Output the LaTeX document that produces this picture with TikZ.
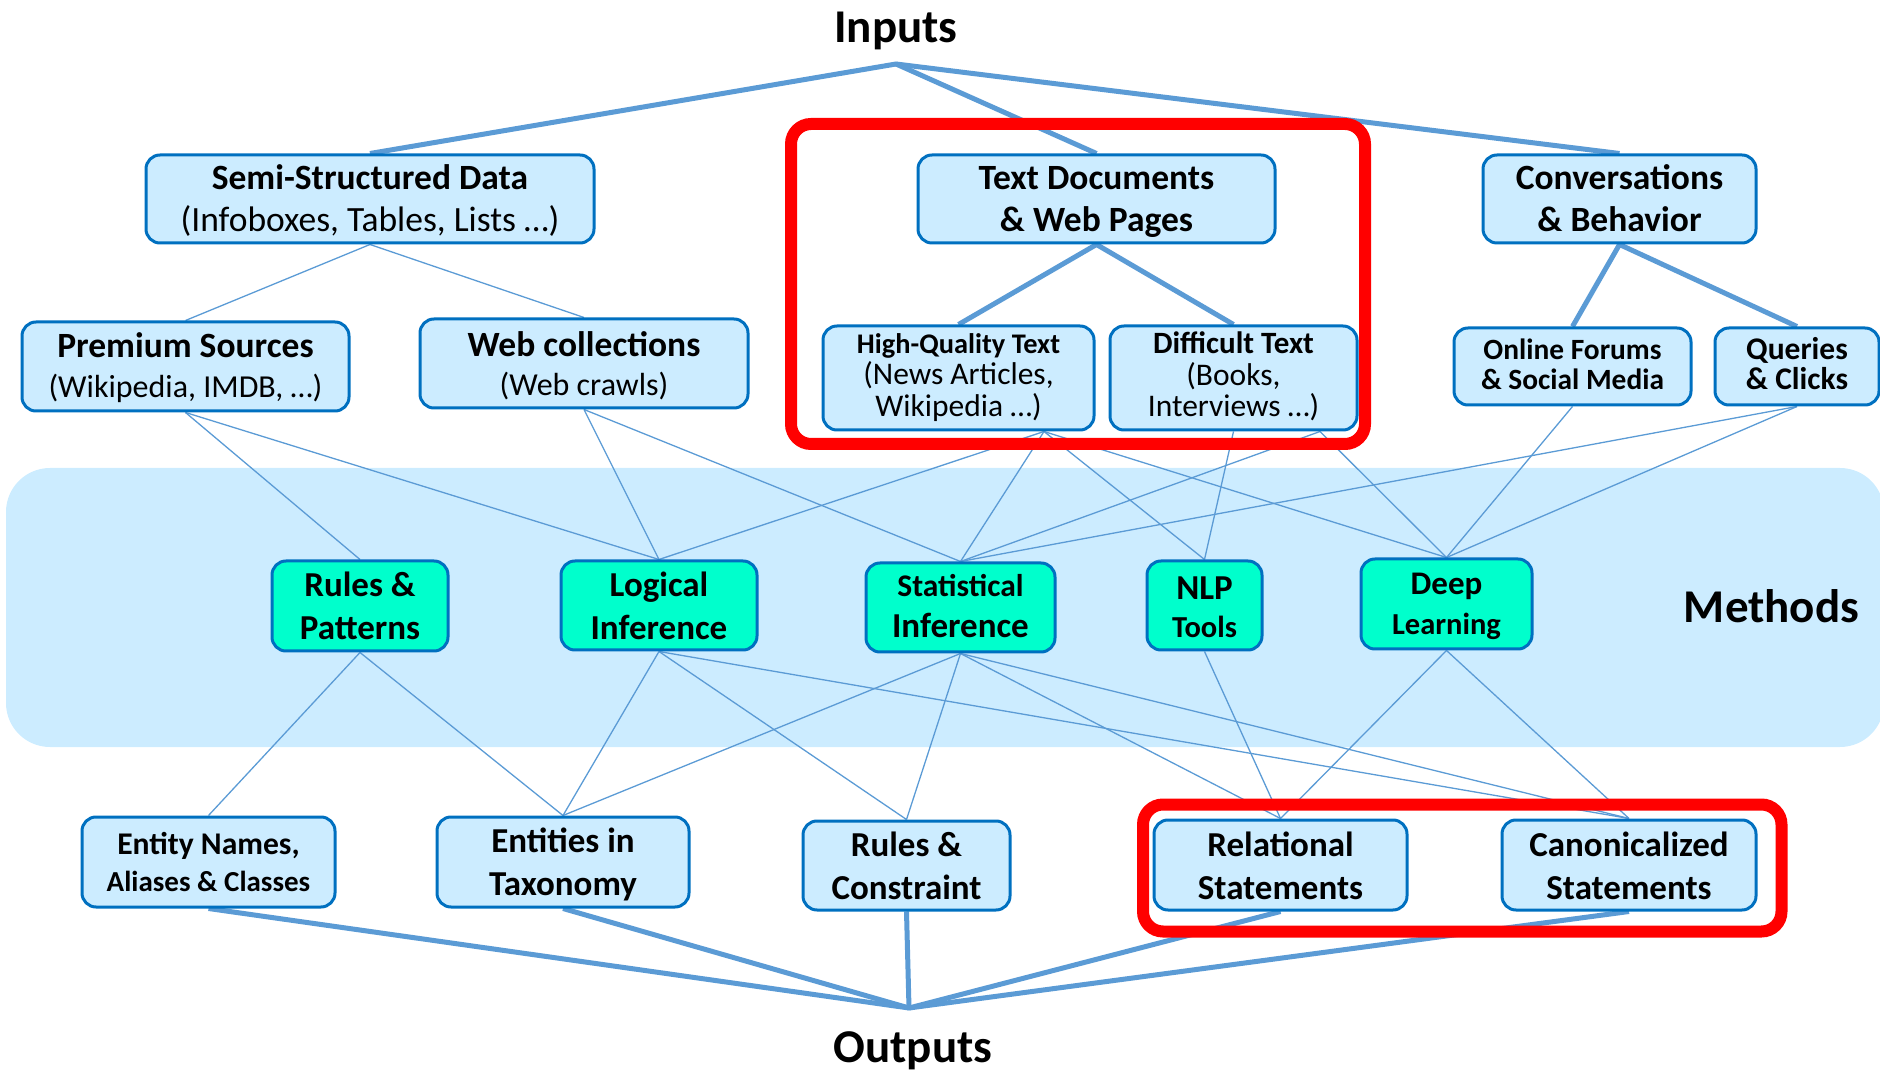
\documentclass[tikz,border=0pt]{standalone}
\usepackage{fontspec}
\setmainfont{Carlito}
\usetikzlibrary{calc}
\definecolor{boxfill}{HTML}{CCECFF}
\definecolor{boxline}{HTML}{0070C0}
\definecolor{linkblue}{HTML}{5B9BD5}
\definecolor{methfill}{HTML}{00FFCC}
\definecolor{hilite}{HTML}{FF0000}
\pgfdeclarelayer{band}
\pgfdeclarelayer{links}
\pgfdeclarelayer{frames}
\pgfsetlayers{band,links,frames,main}
\newcommand\setfs[2]{\fontsize{#1}{#2}\selectfont}
% invisible rules that fix the height of the first line and the depth of the last one
\newcommand\topline[1]{\rule{0pt}{#1pt}}
\newcommand\botline{\rule[-4.5pt]{0pt}{4.5pt}}
\begin{document}
\begin{tikzpicture}[x=0.5pt,y=-0.5pt,
  box/.style={draw=boxline,line width=1.5pt,fill=boxfill,rounded corners=7pt,align=center,inner sep=0pt},
  methbox/.style={box,fill=methfill},
  twig/.style={draw=linkblue,line width=0.65pt},
  trunk/.style={draw=linkblue,line width=2.5pt},
  frame/.style={draw=hilite,line width=6pt,rounded corners=10pt},
  heading/.style={font=\bfseries\setfs{23.5}{28},anchor=base,inner sep=0pt}]
\useasboundingbox (0,0) rectangle (1880,1074);

% headings
\node[heading] (inputs) at (896,43) {Inputs};
\node[heading] (outputs) at (913,1062) {Outputs};
\node[heading] (methods) at (1771.5,623) {Methods};
\coordinate (inap) at (896,64);
\coordinate (outap) at (909,1008);

% input sources
\node[box,minimum width=224pt,minimum height=44pt,font=\setfs{17.75}{21.35}] (semi) at (370,199)
  {\topline{16.15}\textbf{Semi-Structured Data}\\(Infoboxes, Tables, Lists …)\botline};
\node[box,minimum width=178.5pt,minimum height=44pt,font=\bfseries\setfs{17.75}{21.35}] (textdoc) at (1096.5,199)
  {\topline{16.15}Text Documents\\\& Web Pages\botline};
\node[box,minimum width=136.5pt,minimum height=44pt,font=\bfseries\setfs{17.75}{20.85}] (conv) at (1619.5,199)
  {\topline{16.35}Conversations\\\& Behavior\botline};
\node[box,minimum width=163.5pt,minimum height=44.5pt,font=\setfs{16}{20}] (premium) at (185.5,366.5)
  {\topline{16}{\bfseries\setfs{17.75}{20}Premium Sources}\\(Wikipedia, IMDB, …)\botline};
\node[box,minimum width=164pt,minimum height=44.5pt,font=\setfs{16}{19.4}] (webcol) at (584,363.5)
  {\topline{16.7}{\bfseries\setfs{17.75}{19.4}Web collections}\\(Web crawls)\botline};
\node[box,minimum width=135.5pt,minimum height=52pt,font=\setfs{15.75}{15.85}] (hq) at (958.5,378)
  {\topline{11.5}{\bfseries\setfs{14.2}{15.85}High-Quality Text}\\(News Articles,\\Wikipedia …)\botline};
\node[box,minimum width=123.5pt,minimum height=52pt,font=\setfs{15.75}{15.85}] (diff) at (1233.5,378)
  {\topline{11.8}{\bfseries\setfs{15.5}{15.85}Difficult Text}\\(Books,\\Interviews …)\botline};
\node[box,minimum width=118.5pt,minimum height=38.5pt,font=\bfseries\setfs{14.7}{15.35}] (online) at (1572.5,366.5)
  {\topline{12.65}Online Forums\\\& Social Media\botline};
\node[box,minimum width=82pt,minimum height=38.5pt,font=\bfseries\setfs{15.75}{15.35}] (queries) at (1797,366.5)
  {\topline{12.65}Queries\\\& Clicks\botline};

% methods
\node[methbox,minimum width=88pt,minimum height=45pt,font=\bfseries\setfs{17.5}{21.25}] (rules) at (360,606)
  {\topline{16.65}Rules \&\\Patterns\botline};
\node[methbox,minimum width=98pt,minimum height=44.5pt,font=\bfseries\setfs{17.5}{21.5}] (logical) at (659,605.5)
  {\topline{17.5}Logical\\Inference\botline};
\node[methbox,minimum width=94.5pt,minimum height=44.5pt,font=\bfseries\setfs{17.5}{20.5}] (stat) at (960.5,607.5)
  {\topline{14.5}{\setfs{15.75}{20.5}Statistical}\\Inference\botline};
\node[methbox,minimum width=57.5pt,minimum height=44.5pt,font=\bfseries\setfs{17.5}{19.15}] (nlp) at (1204.5,605.5)
  {\topline{17.85}NLP\\{\setfs{15.25}{19.15}Tools}\botline};
\node[methbox,minimum width=85.5pt,minimum height=45pt,font=\bfseries\setfs{16.5}{20}] (deep) at (1446.5,604)
  {\topline{15.5}Deep\\{\setfs{15.25}{20}Learning}\botline};

% outputs
\node[box,minimum width=126.5pt,minimum height=45pt,font=\bfseries\setfs{15.8}{18.25}] (entity) at (208.5,862)
  {\topline{15.25}Entity Names,\\{\setfs{14.5}{18.25}Aliases \& Classes}\botline};
\node[box,minimum width=126pt,minimum height=45pt,font=\bfseries\setfs{17.5}{21.25}] (taxo) at (563,862)
  {\topline{16.25}Entities in\\Taxonomy\botline};
\node[box,minimum width=103.5pt,minimum height=44.5pt,font=\bfseries\setfs{17.5}{21.25}] (rulesc) at (906.5,865.5)
  {\topline{16.75}Rules \&\\Constraint\botline};
\node[box,minimum width=126.5pt,minimum height=45pt,font=\bfseries\setfs{17.5}{21.25}] (rel) at (1280.5,865)
  {\topline{17.25}Relational\\Statements\botline};
\node[box,minimum width=127pt,minimum height=45pt,font=\bfseries\setfs{17.5}{21.25}] (canon) at (1629,865)
  {\topline{17.25}Canonicalized\\Statements\botline};

% methods band
\begin{pgfonlayer}{band}
  \fill[boxfill,rounded corners=22pt] (6,468) rectangle (1884,747);
\end{pgfonlayer}

% connectors
\begin{pgfonlayer}{links}
  \coordinate (hqout) at ($(hq.south)+(85.5,0)$);
  \coordinate (diffout) at ($(diff.south)+(86.5,0)$);
  % source hierarchy
  \draw[trunk] (semi.north) -- (inap) -- (conv.north);
  \draw[trunk] (inap) -- (textdoc.north);
  \draw[trunk] (hq.north) -- (textdoc.south) -- (diff.north);
  \draw[trunk] (online.north) -- (conv.south) -- (queries.north);
  \draw[twig] (premium.north) -- (semi.south) -- (webcol.north);
  % sources to methods
  \draw[twig] (premium.south) -- (rules.north);
  \draw[twig] (premium.south) -- (logical.north);
  \draw[twig] (webcol.south) -- (logical.north);
  \draw[twig] (webcol.south) -- (stat.north);
  \draw[twig] (hqout) -- (logical.north);
  \draw[twig] (hqout) -- (stat.north);
  \draw[twig] (hqout) -- (nlp.north);
  \draw[twig] (hqout) -- (deep.north);
  \draw[twig] (diff.south) -- (nlp.north);
  \draw[twig] (diffout) -- (stat.north);
  \draw[twig] (diffout) -- (deep.north);
  \draw[twig] (online.south) -- (deep.north);
  \draw[twig] (queries.south) -- (deep.north);
  \draw[twig] (queries.south) -- (stat.north);
  % methods to outputs
  \draw[twig] (rules.south) -- (entity.north);
  \draw[twig] (rules.south) -- (taxo.north);
  \draw[twig] (logical.south) -- (taxo.north);
  \draw[twig] (logical.south) -- (rulesc.north);
  \draw[twig] (logical.south) -- (canon.north);
  \draw[twig] (stat.south) -- (taxo.north);
  \draw[twig] (stat.south) -- (rulesc.north);
  \draw[twig] (stat.south) -- (rel.north);
  \draw[twig] (stat.south) -- (canon.north);
  \draw[twig] (nlp.south) -- (rel.north);
  \draw[twig] (deep.south) -- (rel.north);
  \draw[twig] (deep.south) -- (canon.north);
  % outputs merge
  \draw[trunk] (entity.south) -- (outap) -- (canon.south);
  \draw[trunk] (taxo.south) -- (outap);
  \draw[trunk] (rulesc.south) -- (outap);
  \draw[trunk] (rel.south) -- (outap);
\end{pgfonlayer}

% highlight frames
\begin{pgfonlayer}{frames}
  \draw[frame] (791,124) rectangle (1365,444);
  \draw[frame] (1143,804.5) rectangle (1781.5,931.5);
\end{pgfonlayer}
\end{tikzpicture}
\end{document}
